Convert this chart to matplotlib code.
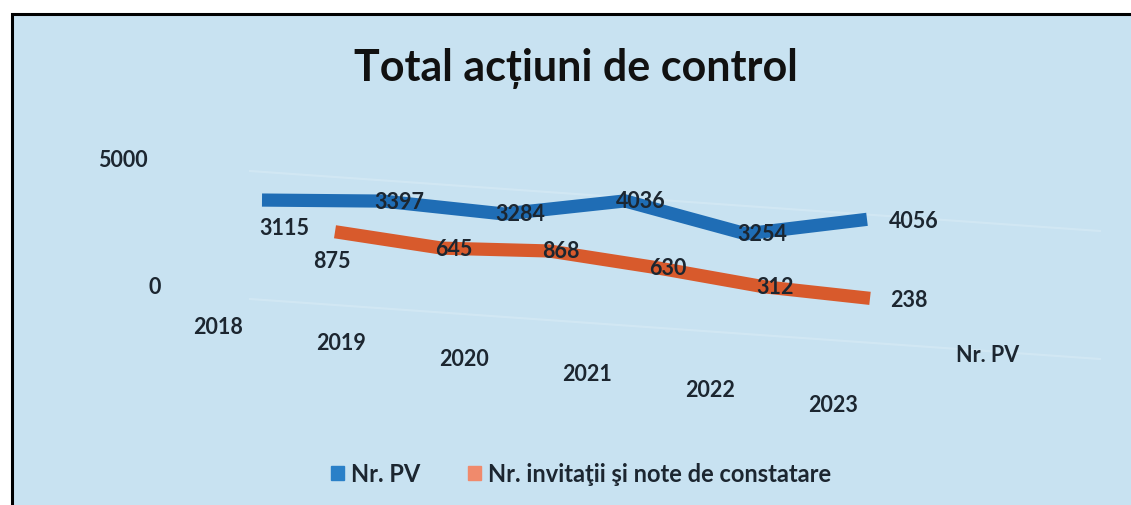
import numpy as np
import matplotlib.pyplot as plt
from matplotlib.transforms import Affine2D
from matplotlib.patches import Rectangle, Patch

years = ['2018', '2019', '2020', '2021', '2022', '2023']
nr_pv = [3115, 3397, 3284, 4036, 3254, 4056]
nr_invitatii = [875, 645, 868, 630, 312, 238]
series_names = ['Nr. PV', 'Nr. invitaţii şi note de constatare']
value_ticks = [0, 5000]

plt.rcParams['font.family'] = ['Lato', 'DejaVu Sans']
plt.rcParams['font.weight'] = 'bold'
txt_col = '#1c2630'
bg_col = '#c8e2f1'
blue = '#1f6db5'
orange = '#d85a2c'

W, H = 1131, 506
fig = plt.figure(figsize=(W / 100, H / 100), dpi=100, facecolor='white')
ax = fig.add_axes([0, 0, 1, 1])
ax.set_xlim(0, W)
ax.set_ylim(H, 0)
ax.axis('off')

# chart area with black frame
ax.add_patch(Rectangle((12, 15), W, H, facecolor=bg_col, edgecolor='black', lw=2.2, zorder=0))

# fake 3d projection: (category index, value) -> pixel position
def proj(x0, dx, y0, dy, sv, sx=0):
    m = np.array([[dx, sx, x0], [dy, -sv, y0], [0, 0, 1]])
    return Affine2D(m) + ax.transData

t_back = proj(262, 121, 294.5, 9.5, 0.03)
t_front = proj(335, 107, 259, 9.5, 0.03)
t_floor = proj(218, 123, 328, 15.6, 0)
t_wall = proj(161, 0, 288, 0, 0.0256, sx=-0.0026)

idx = np.arange(len(years))

# faint gridlines on the back wall
for v in value_ticks:
    gl = proj(250, 170, 300 - 0.0256 * v, 12, 0)
    ax.plot([0, 5], [0, 0], color='white', alpha=0.18, lw=1.5, transform=gl, zorder=1)

ax.plot(idx, nr_pv, color=blue, lw=9.5, solid_capstyle='butt', solid_joinstyle='miter',
        transform=t_back, zorder=2)
ax.plot(idx, nr_invitatii, color=orange, lw=9.5, solid_capstyle='butt', solid_joinstyle='miter',
        transform=t_front, zorder=3)

lab_kw = dict(textcoords='offset pixels', fontsize=15.5, color=txt_col, va='center', zorder=5)
n = len(years)
for i, v in enumerate(nr_pv):
    if i == 0:
        off, ha = (22, -27), 'center'
    elif i == n - 1:
        off, ha = (22, -1), 'left'
    else:
        off, ha = (16, 0), 'center'
    ax.annotate(str(v), (i, v), xycoords=t_back, xytext=off, ha=ha, **lab_kw)
for i, v in enumerate(nr_invitatii):
    if i == 0:
        off, ha = (-3, -29), 'center'
    elif i == n - 1:
        off, ha = (20, -1), 'left'
    else:
        off, ha = (12, 0), 'center'
    ax.annotate(str(v), (i, v), xycoords=t_front, xytext=off, ha=ha, **lab_kw)

# category labels on the floor
for i, y in enumerate(years):
    ax.text(i, 0, y, transform=t_floor, ha='center', va='center', fontsize=15.5, color=txt_col)

# value axis labels
for v in value_ticks:
    ax.text(0, v, str(v), transform=t_wall, ha='right', va='center', fontsize=15.5,
            color=txt_col)

# depth axis label
ax.text(988, 355, series_names[0], ha='center', va='center', fontsize=15.5, color=txt_col)

ax.text(576, 68, 'Total acțiuni de control', ha='center', va='center', fontsize=31,
        color='#111111')

handles = [Patch(color='#2a80c8'), Patch(color='#f08a6c')]
ax.legend(handles, series_names, loc='center', bbox_to_anchor=(581 / W, 1 - 475 / H),
          ncol=2, frameon=False, fontsize=17, handlelength=0.55, handleheight=0.55,
          handletextpad=0.3, columnspacing=2.0, labelcolor=txt_col)

fig.savefig('out.png', dpi=100, facecolor='white')
